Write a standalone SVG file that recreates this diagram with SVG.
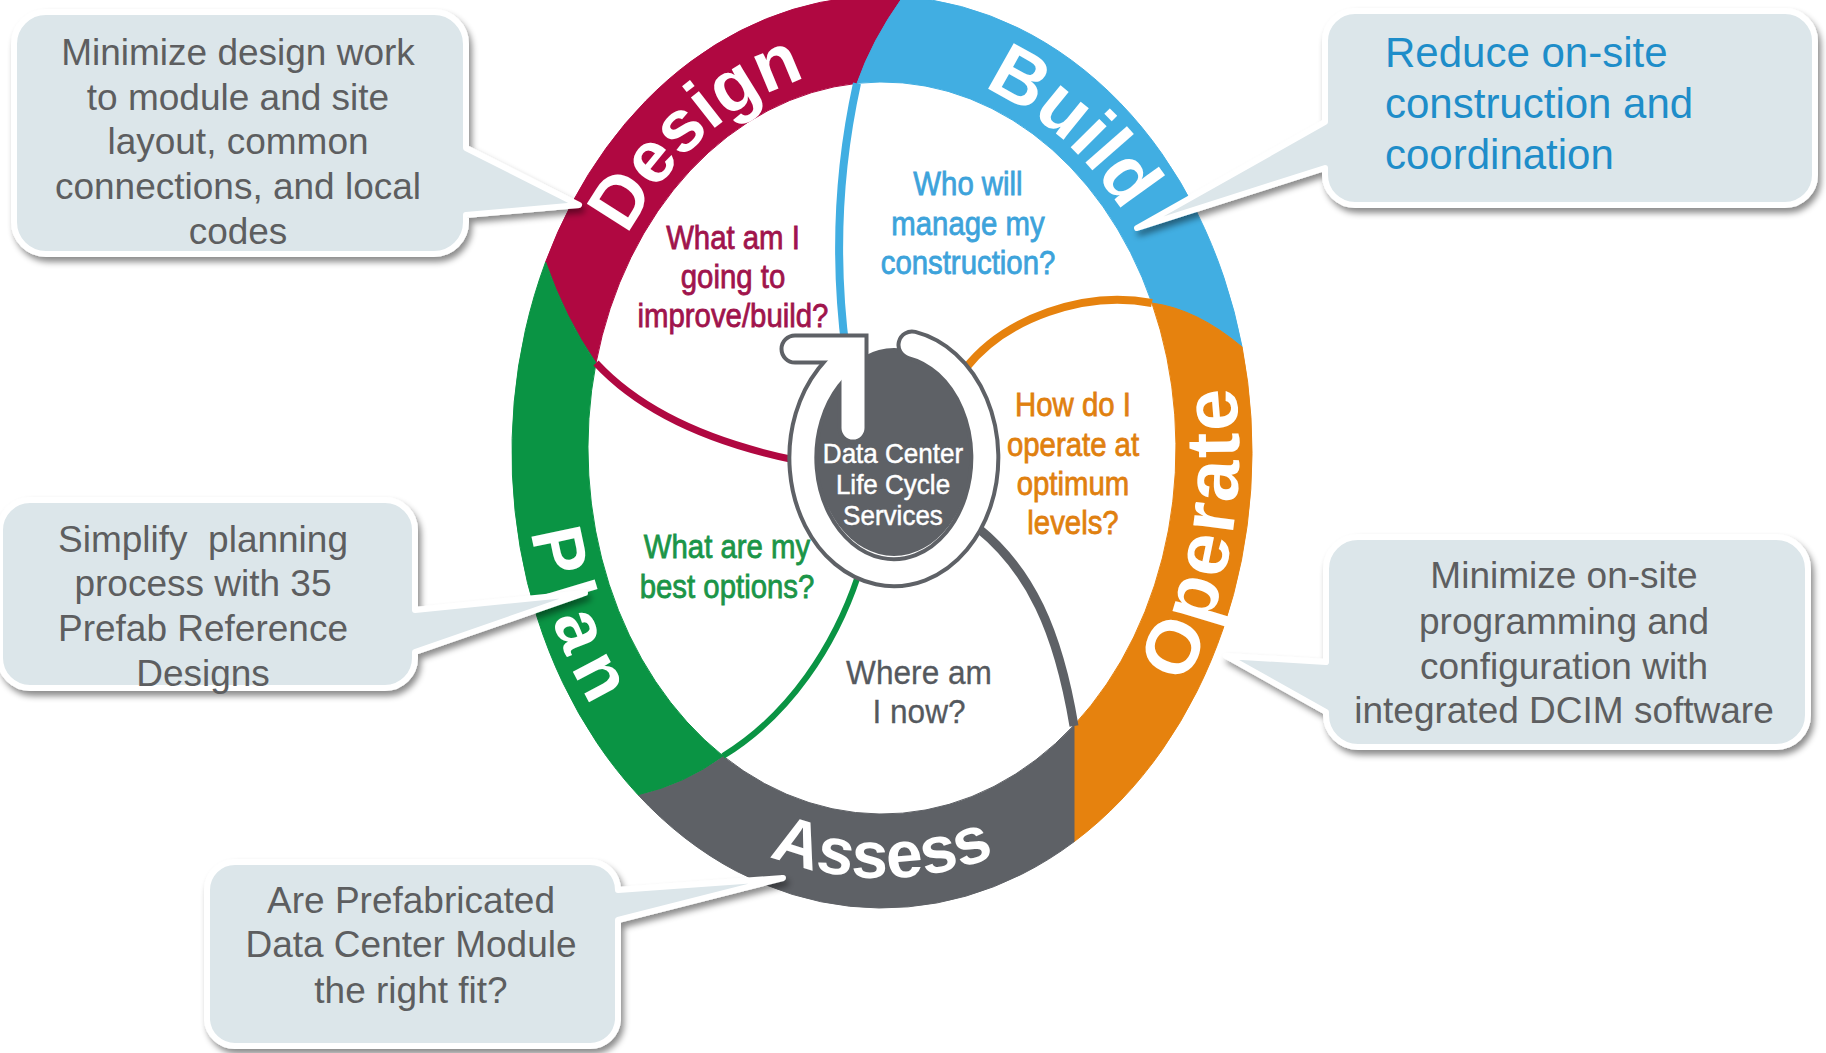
<svg xmlns="http://www.w3.org/2000/svg" width="1826" height="1053" viewBox="0 0 1826 1053">
<style>
.band{stroke-width:1}
.lbl{font-family:"Liberation Sans",Arial,sans-serif;font-weight:bold;fill:#fff}
.q{font-family:"Liberation Sans",Arial,sans-serif;font-size:33px;text-anchor:middle;stroke-width:0.8}
.ct{font-family:"Liberation Sans",Arial,sans-serif;font-size:28px;fill:#fff;stroke:#fff;stroke-width:0.5;text-anchor:middle}
.box{fill:#DCE6EA;stroke:#fff;stroke-width:6;stroke-linejoin:round;filter:url(#sh)}
.bt{font-family:"Liberation Sans",Arial,sans-serif;font-size:37px;fill:#5D5E60;text-anchor:middle}
.spoke{fill:none;stroke-linecap:butt}
</style>
<defs>
<filter id="sh" x="-10%" y="-10%" width="125%" height="135%">
<feDropShadow dx="3" dy="5" stdDeviation="3" flood-color="#000" flood-opacity="0.45"/>
</filter>
<path id="pDesign" d="M 597.4 306.2 A 307 384 0 0 1 882 66"/>
<path id="pBuild" d="M 882 66 A 307 384 0 0 1 1166.6 306.2"/>
<path id="pOperate" d="M 1086.8 811.3 A 357 441 0 0 0 1191.2 229.5"/>
<path id="pAssess" d="M 677.2 800.6 A 357 428 0 0 0 1086.8 800.6"/>
<path id="pPlan" d="M 530.4 373.4 A 357 441 0 0 0 703.5 831.9"/>
</defs>
<rect width="1826" height="1053" fill="#fff"/>

<g id="seg-design">
<path class="band" fill="#B00841" stroke="#B00841" d="M 545.6 262 A 370 456 0 0 1 903 -3.3 Q 872 40 857 83.3 A 294 366 0 0 0 596 363 Q 565 318 545.6 262 Z"/>
<text class="lbl" font-size="73"><textPath href="#pDesign" startOffset="50%" text-anchor="middle">Design</textPath></text>
</g>
<g id="seg-build">
<path class="band" fill="#41AEE2" stroke="#41AEE2" d="M 903 -3.3 A 370 456 0 0 1 1242.1 347 Q 1197 309 1151.9 303 A 294 366 0 0 0 857 83.3 Q 872 40 903 -3.3 Z"/>
<text class="lbl" font-size="76"><textPath href="#pBuild" startOffset="50%" text-anchor="middle">Build</textPath></text>
</g>
<g id="seg-operate">
<path class="band" fill="#E6820E" stroke="#E6820E" d="M 1242.1 347 A 370 456 0 0 1 1074 841.8 L 1074 725.2 A 294 366 0 0 0 1151.9 303 Q 1197 309 1242.1 347 Z"/>
<text class="lbl" font-size="76" letter-spacing="3"><textPath href="#pOperate" startOffset="50%" text-anchor="middle">Operate</textPath></text>
</g>
<g id="seg-assess">
<path class="band" fill="#5E6166" stroke="#5E6166" d="M 1074 841.8 A 370 456 0 0 1 638 794.8 Q 685 784 723 755.9 A 294 366 0 0 0 1074 725.2 Z"/>
<text class="lbl" font-size="66"><textPath href="#pAssess" startOffset="50%" text-anchor="middle">Assess</textPath></text>
</g>
<g id="seg-plan">
<path class="band" fill="#0A9444" stroke="#0A9444" d="M 638 794.8 A 370 456 0 0 1 545.6 262 Q 565 318 596 363 A 294 366 0 0 0 723 755.9 Q 685 784 638 794.8 Z"/>
<text class="lbl" font-size="72" letter-spacing="11"><textPath href="#pPlan" startOffset="50%" text-anchor="middle">Plan</textPath></text>
</g>

<g id="connectors">
<path class="spoke" stroke="#B00841" stroke-width="7" d="M 596 363 Q 660 432 795 460"/>
<path class="spoke" stroke="#41AEE2" stroke-width="8" d="M 857 83.3 Q 828 215 846 352"/>
<path class="spoke" stroke="#E6820E" stroke-width="8" d="M 1151.9 303 C 1085 290 1005 318 965 369"/>
<path class="spoke" stroke="#5E6166" stroke-width="9" d="M 978 528 C 1030 570 1058 630 1074 726"/>
<path class="spoke" stroke="#0A9444" stroke-width="6" d="M 858 576 C 835 645 790 715 723 756"/>
</g>

<g id="center">
<ellipse cx="894" cy="452" rx="78" ry="104" fill="#5E6166"/>
<g fill="none" stroke="#5E6166" stroke-width="31">
<path d="M 912 345 A 91 115 0 1 1 829 377 L 846 357" stroke-linecap="round"/>
<path d="M 795 349 L 853 349 L 853 428" stroke-linecap="round" stroke-linejoin="miter"/>
</g>
<g fill="none" stroke="#fff" stroke-width="23">
<path d="M 912 345 A 91 115 0 1 1 829 377 L 846 357" stroke-linecap="round"/>
<path d="M 795 349 L 853 349 L 853 428" stroke-linecap="round" stroke-linejoin="miter"/>
</g>
<text class="ct" transform="translate(893 0) scale(0.93 1)"><tspan x="0" y="463">Data Center</tspan><tspan x="0" y="494">Life Cycle</tspan><tspan x="0" y="525">Services</tspan></text>
</g>

<g id="q-design"><text class="q" fill="#A0144C" stroke="#A0144C" transform="translate(733 0) scale(0.89 1)"><tspan x="0" y="249">What am I</tspan><tspan x="0" y="288">going to</tspan><tspan x="0" y="327">improve/build?</tspan></text></g>
<g id="q-build"><text class="q" fill="#3DA3DB" stroke="#3DA3DB" transform="translate(968 0) scale(0.89 1)"><tspan x="0" y="195">Who will</tspan><tspan x="0" y="235">manage my</tspan><tspan x="0" y="274">construction?</tspan></text></g>
<g id="q-operate"><text class="q" fill="#E0800F" stroke="#E0800F" transform="translate(1073 0) scale(0.89 1)"><tspan x="0" y="416">How do I</tspan><tspan x="0" y="456">operate at</tspan><tspan x="0" y="495">optimum</tspan><tspan x="0" y="534">levels?</tspan></text></g>
<g id="q-plan"><text class="q" fill="#1B9548" stroke="#1B9548" transform="translate(727 0) scale(0.89 1)"><tspan x="0" y="558">What are my</tspan><tspan x="0" y="598">best options?</tspan></text></g>
<g id="q-assess"><text class="q" fill="#55595E" stroke="#55595E" transform="translate(919 0) scale(0.93 1)" style="font-size:34px;stroke-width:0.3"><tspan x="0" y="684">Where am</tspan><tspan x="0" y="723">I now?</tspan></text></g>

<g id="callout-design">
<path class="box" d="M 46 12 H 434 A 32 32 0 0 1 466 44 V 148 L 579 205 L 466 215 V 222 A 32 32 0 0 1 434 254 H 46 A 32 32 0 0 1 14 222 V 44 A 32 32 0 0 1 46 12 Z"/>
<text class="bt"><tspan x="238" y="65">Minimize design work</tspan><tspan x="238" y="110">to module and site</tspan><tspan x="238" y="154">layout, common</tspan><tspan x="238" y="199">connections, and local</tspan><tspan x="238" y="244">codes</tspan></text>
</g>
<g id="callout-build">
<path class="box" d="M 1355 11 H 1785 A 30 30 0 0 1 1815 41 V 175 A 30 30 0 0 1 1785 205 H 1355 A 30 30 0 0 1 1325 175 V 168 L 1137 228 L 1325 122 V 41 A 30 30 0 0 1 1355 11 Z"/>
<text class="bt" style="font-size:42px;fill:#1E8DC9;text-anchor:start"><tspan x="1385" y="67">Reduce on-site</tspan><tspan x="1385" y="118">construction and</tspan><tspan x="1385" y="169">coordination</tspan></text>
</g>
<g id="callout-plan">
<path class="box" d="M 30 500 H 385 A 30 30 0 0 1 415 530 V 610 L 585 593 L 415 652 V 658 A 30 30 0 0 1 385 688 H 30 A 30 30 0 0 1 0 658 V 530 A 30 30 0 0 1 30 500 Z"/>
<text class="bt" xml:space="preserve"><tspan x="203" y="552">Simplify  planning</tspan><tspan x="203" y="596">process with 35</tspan><tspan x="203" y="641">Prefab Reference</tspan><tspan x="203" y="686">Designs</tspan></text>
</g>
<g id="callout-operate">
<path class="box" d="M 1358 537 H 1776 A 32 32 0 0 1 1808 569 V 715 A 32 32 0 0 1 1776 747 H 1358 A 32 32 0 0 1 1326 715 V 712 L 1226 656 L 1326 662 V 569 A 32 32 0 0 1 1358 537 Z"/>
<text class="bt"><tspan x="1564" y="588">Minimize on-site</tspan><tspan x="1564" y="634">programming and</tspan><tspan x="1564" y="679">configuration with</tspan><tspan x="1564" y="723">integrated DCIM software</tspan></text>
</g>
<g id="callout-assess">
<path class="box" d="M 235 862 H 590 A 28 28 0 0 1 618 890 L 783 878 L 618 920 V 1020 A 28 28 0 0 1 590 1046 H 235 A 28 28 0 0 1 207 1020 V 890 A 28 28 0 0 1 235 862 Z"/>
<text class="bt"><tspan x="411" y="913">Are Prefabricated</tspan><tspan x="411" y="957">Data Center Module</tspan><tspan x="411" y="1003">the right fit?</tspan></text>
</g>
</svg>
